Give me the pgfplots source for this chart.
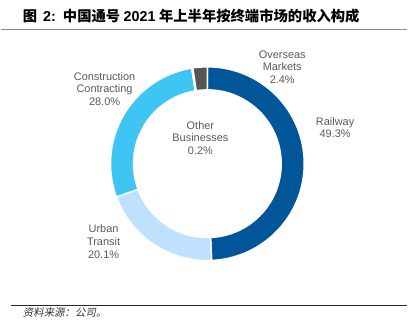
\documentclass[border=0pt]{standalone}
\usepackage{pgfplots}
\pgfplotsset{compat=1.18}
\usepackage{fontspec}
\setmainfont{Liberation Sans}
\newfontfamily\cjk{Noto Sans CJK SC}
\newfontfamily\cjkslant[FakeSlant=0.2]{Noto Sans CJK SC}
\definecolor{rail}{RGB}{0,86,152}
\definecolor{urban}{RGB}{191,225,255}
\definecolor{constr}{RGB}{62,197,243}
\definecolor{other}{RGB}{200,200,200}
\definecolor{overseas}{RGB}{85,85,85}
\definecolor{lbl}{RGB}{89,89,89}
% slice: cumulative start (%), share (%), colour
\newcommand{\slice}[3]{%
  \pgfmathsetmacro\aone{90-3.6*#1}%
  \pgfmathsetmacro\atwo{90-3.6*(#1+#2)}%
  \edef\tmp{\noexpand\fill[#3, draw=white, line width=1.4bp]
    (axis cs:{207+97*cos(\aone)},{170+97*sin(\aone)})
    arc[start angle=\aone, end angle=\atwo, radius=97bp]
    -- (axis cs:{207+74*cos(\atwo)},{170+74*sin(\atwo)})
    arc[start angle=\atwo, end angle=\aone, radius=74bp] -- cycle;}%
  \tmp}
\begin{document}
\begin{tikzpicture}
\begin{axis}[hide axis, scale only axis, width=414bp, height=334bp,
  xmin=0, xmax=414, ymin=0, ymax=334, clip=false]
\path (axis cs:0,0) rectangle (axis cs:414,334);
% title
\node[anchor=base west, inner sep=0pt] at (axis cs:22,312.5)
  {\fontsize{14.4}{16}\selectfont\bfseries{\cjk 图}\hspace{6bp}2:\hspace{7bp}{\cjk 中国通号}\hspace{3.5bp}2021\hspace{3.5bp}{\cjk 年上半年按终端市场的收入构成}};
\draw[color={rgb,255:red,140;green,140;blue,140}, line width=1.5bp] (axis cs:0,304.5) -- (axis cs:407,304.5);
% donut: Railway 49.3, Urban Transit 20.1, Construction Contracting 28.0, Other 0.2, Overseas 2.4
\slice{0}{49.3}{rail}
\slice{49.3}{20.1}{urban}
\slice{69.4}{28.0}{constr}
\slice{97.4}{0.2}{other}
\slice{97.6}{2.4}{overseas}
% labels
\begin{scope}[every node/.style={align=center, text=lbl, inner sep=0pt,
   font=\fontsize{11}{12.6}\selectfont}]
\node at (axis cs:282,267) {Overseas\\Markets\\2.4\%};
\node at (axis cs:335,206) {Railway\\49.3\%};
\node at (axis cs:104,245) {Construction\\Contracting\\28.0\%};
\node at (axis cs:200,196) {Other\\Businesses\\0.2\%};
\node at (axis cs:103,92) {Urban\\Transit\\20.1\%};
\end{scope}
% footer
\draw[color={rgb,255:red,40;green,40;blue,40}, line width=1bp] (axis cs:10,28.3) -- (axis cs:407,28.3);
\node[anchor=west, inner sep=0pt, text={rgb,255:red,50;green,50;blue,50}] at (axis cs:22,20.5)
  {\fontsize{10.5}{12}\selectfont\cjkslant 资料来源：公司。};
\end{axis}
\end{tikzpicture}
\end{document}
